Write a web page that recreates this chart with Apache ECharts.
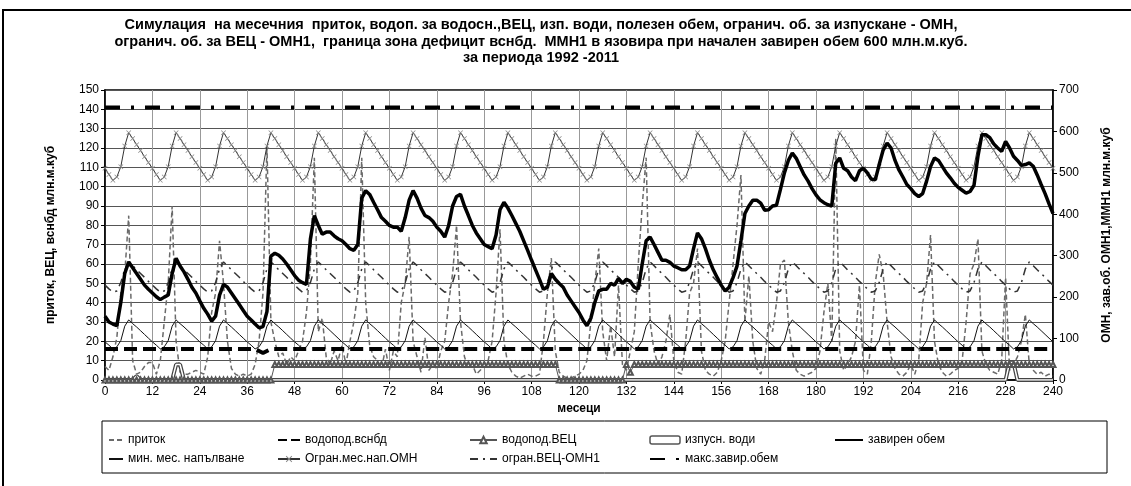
<!DOCTYPE html>
<html>
<head>
<meta charset="utf-8">
<title>Симулация ММН1</title>
<script src="https://cdn.jsdelivr.net/npm/echarts@6/dist/echarts.min.js"></script>
<style>
  html, body { margin: 0; padding: 0; background: #fff; }
  #chart { width: 1131px; height: 486px; }
</style>
</head>
<body>
<div id="chart"></div>
<script>
// months 0..240
const months = Array.from({ length: 241 }, (_, i) => i);

// приток (left axis)
const inflow = [
  7, 5, 12, 22, 45, 55, 85, 10, 3, 4, 7, 9,
  9, 3, 10, 30, 50, 90, 20, 4, 3, 3, 4, 5,
  4, 3, 12, 35, 45, 72, 50, 20, 6, 3, 2, 3,
  2, 3, 8, 20, 45, 121, 30, 20, 12, 14, 8, 12,
  10, 15, 20, 35, 60, 115, 25, 32, 12, 8, 15, 10,
  18, 8, 20, 30, 45, 115, 40, 18, 12, 10, 6, 16,
  5, 15, 12, 40, 50, 74, 20, 12, 4, 22, 5, 8,
  6, 15, 20, 40, 55, 80, 30, 12, 6, 8, 3, 5,
  8, 10, 20, 45, 78, 20, 8, 4, 2, 1, 2, 3,
  2, 2, 3, 20, 45, 63, 15, 4, 2, 1, 1, 2,
  3, 5, 10, 30, 50, 68, 25, 10, 28, 12, 49, 8,
  5, 15, 25, 60, 90, 115, 30, 15, 8, 12, 20, 34,
  10, 4, 3, 20, 45, 50, 68, 15, 5, 3, 2, 4,
  10, 20, 40, 60, 80, 106, 30, 54, 20, 6, 3, 10,
  30, 25, 40, 60, 62, 30, 15, 5, 3, 2, 3, 4,
  6, 15, 35, 50, 20, 125, 15, 5, 8, 12, 20, 49,
  5, 3, 20, 50, 65, 55, 30, 12, 6, 3, 2, 4,
  8, 3, 10, 40, 50, 75, 20, 8, 4, 2, 3, 5,
  6, 10, 30, 55, 60, 73, 15, 8, 5, 4, 3, 10,
  53, 5, 8, 12, 20, 34, 8, 5, 3, 4, 2, 3,
  2
];

// водопод.вснбд (left axis)
const supplyIrr = [
  16, 16, 16, 16, 16, 16, 16, 16, 16, 16, 16, 16,
  16, 16, 16, 16, 16, 16, 16, 16, 16, 16, 16, 16,
  16, 16, 16, 16, 16, 16, 16, 16, 16, 16, 16, 16,
  16, 16, 16, 15, 14, 15, 16, 16, 16, 16, 16, 16,
  16, 16, 16, 16, 16, 16, 16, 16, 16, 16, 16, 16,
  16, 16, 16, 16, 16, 16, 16, 16, 16, 16, 16, 16,
  16, 16, 16, 16, 16, 16, 16, 16, 16, 16, 16, 16,
  16, 16, 16, 16, 16, 16, 16, 16, 16, 16, 16, 16,
  16, 16, 16, 16, 16, 16, 16, 16, 16, 16, 16, 16,
  16, 16, 16, 16, 16, 16, 16, 16, 16, 16, 16, 16,
  16, 16, 16, 16, 16, 16, 16, 16, 16, 16, 16, 16,
  16, 16, 16, 16, 16, 16, 16, 16, 16, 16, 16, 16,
  16, 16, 16, 16, 16, 16, 16, 16, 16, 16, 16, 16,
  16, 16, 16, 16, 16, 16, 16, 16, 16, 16, 16, 16,
  16, 16, 16, 16, 16, 16, 16, 16, 16, 16, 16, 16,
  16, 16, 16, 16, 16, 16, 16, 16, 16, 16, 16, 16,
  16, 16, 16, 16, 16, 16, 16, 16, 16, 16, 16, 16,
  16, 16, 16, 16, 16, 16, 16, 16, 16, 16, 16, 16,
  16, 16, 16, 16, 16, 16, 16, 16, 16, 16, 16, 16,
  16, 16, 16, 16, 16, 16, 16, 16, 16, 16, 16, 16,
  16
];

// водопод.ВЕЦ (left axis)
const supplyHpp = [
  0, 0, 0, 0, 0, 0, 0, 0, 0, 0, 0, 0,
  0, 0, 0, 0, 0, 0, 0, 0, 0, 0, 0, 0,
  0, 0, 0, 0, 0, 0, 0, 0, 0, 0, 0, 0,
  0, 0, 0, 0, 0, 0, 0, 8, 8, 8, 8, 8,
  8, 8, 8, 8, 8, 8, 8, 8, 8, 8, 8, 8,
  8, 8, 8, 8, 8, 8, 8, 8, 8, 8, 8, 8,
  8, 8, 8, 8, 8, 8, 8, 8, 8, 8, 8, 8,
  8, 8, 8, 8, 8, 8, 8, 8, 8, 8, 8, 8,
  8, 8, 8, 8, 8, 8, 8, 8, 8, 8, 8, 8,
  8, 8, 8, 8, 8, 8, 8, 0, 0, 0, 0, 0,
  0, 0, 0, 0, 0, 0, 0, 0, 0, 0, 0, 0,
  8, 4, 8, 8, 8, 8, 8, 8, 8, 8, 8, 8,
  8, 8, 8, 8, 8, 8, 8, 8, 8, 8, 8, 8,
  8, 8, 8, 8, 8, 8, 8, 8, 8, 8, 8, 8,
  8, 8, 8, 8, 8, 8, 8, 8, 8, 8, 8, 8,
  8, 8, 8, 8, 8, 8, 8, 8, 8, 8, 8, 8,
  8, 8, 8, 8, 8, 8, 8, 8, 8, 8, 8, 8,
  8, 8, 8, 8, 8, 8, 8, 8, 8, 8, 8, 8,
  8, 8, 8, 8, 8, 8, 8, 8, 8, 8, 8, 8,
  8, 8, 8, 8, 8, 8, 8, 8, 8, 8, 8, 8,
  8
];

// изпусн. води (left axis)
const spill = [
  0, 0, 0, 0, 0, 0, 0, 0, 2, 0, 0, 0,
  0, 0, 0, 0, 0, 0, 8, 8, 0, 0, 0, 0,
  0, 0, 0, 0, 0, 0, 0, 0, 0, 0, 0, 0,
  0, 0, 0, 0, 0, 0, 0, 0, 0, 0, 0, 0,
  0, 0, 0, 0, 0, 0, 0, 0, 0, 0, 0, 0,
  0, 0, 0, 0, 0, 0, 0, 0, 0, 0, 0, 0,
  0, 0, 0, 0, 0, 0, 0, 0, 0, 0, 0, 0,
  0, 0, 0, 0, 0, 0, 0, 0, 0, 0, 0, 0,
  0, 0, 0, 0, 0, 0, 0, 0, 0, 0, 0, 0,
  0, 0, 0, 0, 0, 0, 0, 0, 0, 0, 0, 0,
  0, 0, 0, 0, 0, 0, 0, 0, 0, 0, 0, 0,
  0, 0, 0, 0, 0, 0, 0, 0, 0, 0, 0, 0,
  0, 0, 0, 0, 0, 0, 0, 0, 0, 0, 0, 0,
  0, 0, 0, 0, 0, 0, 0, 0, 0, 0, 0, 0,
  0, 0, 0, 0, 0, 0, 0, 0, 0, 0, 0, 0,
  0, 0, 0, 0, 0, 0, 0, 0, 0, 0, 0, 0,
  0, 0, 0, 0, 0, 0, 0, 0, 0, 0, 0, 0,
  0, 0, 0, 0, 0, 0, 0, 0, 0, 0, 0, 0,
  0, 0, 0, 0, 0, 0, 0, 0, 0, 0, 0, 0,
  0, 9, 9, 0, 0, 0, 0, 0, 0, 0, 0, 0,
  0
];

// завирен обем (right axis)
const stored = [
  154, 140, 135, 131, 187, 257, 285, 271, 257, 243, 229, 219,
  210, 201, 194, 200, 205, 257, 294, 275, 261, 243, 224, 210,
  191, 173, 159, 142, 154, 205, 231, 224, 210, 196, 182, 168,
  154, 145, 135, 126, 129, 165, 299, 306, 301, 292, 280, 266,
  252, 241, 235, 231, 340, 397, 373, 352, 357, 357, 348, 341,
  336, 327, 317, 313, 327, 439, 457, 448, 429, 411, 392, 383,
  373, 369, 369, 359, 392, 434, 457, 439, 415, 397, 392, 383,
  369, 359, 345, 373, 420, 443, 448, 420, 397, 373, 355, 341,
  327, 322, 317, 350, 411, 429, 415, 397, 378, 359, 336, 313,
  289, 266, 243, 219, 224, 257, 243, 233, 224, 205, 191, 177,
  163, 145, 131, 149, 187, 215, 219, 219, 233, 229, 245, 233,
  243, 238, 224, 219, 280, 336, 345, 327, 308, 289, 289, 284,
  275, 271, 266, 266, 275, 317, 355, 341, 317, 289, 266, 247,
  229, 215, 224, 247, 275, 336, 402, 420, 434, 434, 427, 410,
  411, 420, 422, 460, 500, 530, 548, 535, 515, 495, 480, 462,
  447, 435, 428, 423, 420, 523, 536, 511, 505, 490, 481, 505,
  511, 500, 485, 483, 520, 555, 572, 560, 530, 507, 490, 472,
  462, 450, 443, 450, 480, 515, 536, 530, 515, 500, 488, 475,
  465, 458, 451, 455, 470, 540, 592, 592, 585, 570, 560, 552,
  576, 560, 540, 530, 518, 520, 524, 516, 495, 472, 450, 425,
  402
];

// мин. мес. напълване (right axis)
const minFill = [
  92, 84, 75, 80, 95, 130, 145, 136, 128, 119, 110, 101,
  92, 84, 75, 80, 95, 130, 145, 136, 128, 119, 110, 101,
  92, 84, 75, 80, 95, 130, 145, 136, 128, 119, 110, 101,
  92, 84, 75, 80, 95, 130, 145, 136, 128, 119, 110, 101,
  92, 84, 75, 80, 95, 130, 145, 136, 128, 119, 110, 101,
  92, 84, 75, 80, 95, 130, 145, 136, 128, 119, 110, 101,
  92, 84, 75, 80, 95, 130, 145, 136, 128, 119, 110, 101,
  92, 84, 75, 80, 95, 130, 145, 136, 128, 119, 110, 101,
  92, 84, 75, 80, 95, 130, 145, 136, 128, 119, 110, 101,
  92, 84, 75, 80, 95, 130, 145, 136, 128, 119, 110, 101,
  92, 84, 75, 80, 95, 130, 145, 136, 128, 119, 110, 101,
  92, 84, 75, 80, 95, 130, 145, 136, 128, 119, 110, 101,
  92, 84, 75, 80, 95, 130, 145, 136, 128, 119, 110, 101,
  92, 84, 75, 80, 95, 130, 145, 136, 128, 119, 110, 101,
  92, 84, 75, 80, 95, 130, 145, 136, 128, 119, 110, 101,
  92, 84, 75, 80, 95, 130, 145, 136, 128, 119, 110, 101,
  92, 84, 75, 80, 95, 130, 145, 136, 128, 119, 110, 101,
  92, 84, 75, 80, 95, 130, 145, 136, 128, 119, 110, 101,
  92, 84, 75, 80, 95, 130, 145, 136, 128, 119, 110, 101,
  92, 84, 75, 80, 95, 130, 145, 136, 128, 119, 110, 101,
  92
];

// Огран.мес.нап.ОМН (right axis)
const limitOmn = [
  511, 496, 482, 490, 515, 565, 597, 583, 568, 554, 539, 525,
  511, 496, 482, 490, 515, 565, 597, 583, 568, 554, 539, 525,
  511, 496, 482, 490, 515, 565, 597, 583, 568, 554, 539, 525,
  511, 496, 482, 490, 515, 565, 597, 583, 568, 554, 539, 525,
  511, 496, 482, 490, 515, 565, 597, 583, 568, 554, 539, 525,
  511, 496, 482, 490, 515, 565, 597, 583, 568, 554, 539, 525,
  511, 496, 482, 490, 515, 565, 597, 583, 568, 554, 539, 525,
  511, 496, 482, 490, 515, 565, 597, 583, 568, 554, 539, 525,
  511, 496, 482, 490, 515, 565, 597, 583, 568, 554, 539, 525,
  511, 496, 482, 490, 515, 565, 597, 583, 568, 554, 539, 525,
  511, 496, 482, 490, 515, 565, 597, 583, 568, 554, 539, 525,
  511, 496, 482, 490, 515, 565, 597, 583, 568, 554, 539, 525,
  511, 496, 482, 490, 515, 565, 597, 583, 568, 554, 539, 525,
  511, 496, 482, 490, 515, 565, 597, 583, 568, 554, 539, 525,
  511, 496, 482, 490, 515, 565, 597, 583, 568, 554, 539, 525,
  511, 496, 482, 490, 515, 565, 597, 583, 568, 554, 539, 525,
  511, 496, 482, 490, 515, 565, 597, 583, 568, 554, 539, 525,
  511, 496, 482, 490, 515, 565, 597, 583, 568, 554, 539, 525,
  511, 496, 482, 490, 515, 565, 597, 583, 568, 554, 539, 525,
  511, 496, 482, 490, 515, 565, 597, 583, 568, 554, 539, 525,
  511
];

// огран.ВЕЦ-ОМН1 (right axis)
const limitHpp = [
  229, 220, 212, 215, 235, 268, 285, 276, 266, 257, 248, 238,
  229, 220, 212, 215, 235, 268, 285, 276, 266, 257, 248, 238,
  229, 220, 212, 215, 235, 268, 285, 276, 266, 257, 248, 238,
  229, 220, 212, 215, 235, 268, 285, 276, 266, 257, 248, 238,
  229, 220, 212, 215, 235, 268, 285, 276, 266, 257, 248, 238,
  229, 220, 212, 215, 235, 268, 285, 276, 266, 257, 248, 238,
  229, 220, 212, 215, 235, 268, 285, 276, 266, 257, 248, 238,
  229, 220, 212, 215, 235, 268, 285, 276, 266, 257, 248, 238,
  229, 220, 212, 215, 235, 268, 285, 276, 266, 257, 248, 238,
  229, 220, 212, 215, 235, 268, 285, 276, 266, 257, 248, 238,
  229, 220, 212, 215, 235, 268, 285, 276, 266, 257, 248, 238,
  229, 220, 212, 215, 235, 268, 285, 276, 266, 257, 248, 238,
  229, 220, 212, 215, 235, 268, 285, 276, 266, 257, 248, 238,
  229, 220, 212, 215, 235, 268, 285, 276, 266, 257, 248, 238,
  229, 220, 212, 215, 235, 268, 285, 276, 266, 257, 248, 238,
  229, 220, 212, 215, 235, 268, 285, 276, 266, 257, 248, 238,
  229, 220, 212, 215, 235, 268, 285, 276, 266, 257, 248, 238,
  229, 220, 212, 215, 235, 268, 285, 276, 266, 257, 248, 238,
  229, 220, 212, 215, 235, 268, 285, 276, 266, 257, 248, 238,
  229, 220, 212, 215, 235, 268, 285, 276, 266, 257, 248, 238,
  229
];

// макс.завир.обем (right axis)
const maxStored = [
  658, 658, 658, 658, 658, 658, 658, 658, 658, 658, 658, 658,
  658, 658, 658, 658, 658, 658, 658, 658, 658, 658, 658, 658,
  658, 658, 658, 658, 658, 658, 658, 658, 658, 658, 658, 658,
  658, 658, 658, 658, 658, 658, 658, 658, 658, 658, 658, 658,
  658, 658, 658, 658, 658, 658, 658, 658, 658, 658, 658, 658,
  658, 658, 658, 658, 658, 658, 658, 658, 658, 658, 658, 658,
  658, 658, 658, 658, 658, 658, 658, 658, 658, 658, 658, 658,
  658, 658, 658, 658, 658, 658, 658, 658, 658, 658, 658, 658,
  658, 658, 658, 658, 658, 658, 658, 658, 658, 658, 658, 658,
  658, 658, 658, 658, 658, 658, 658, 658, 658, 658, 658, 658,
  658, 658, 658, 658, 658, 658, 658, 658, 658, 658, 658, 658,
  658, 658, 658, 658, 658, 658, 658, 658, 658, 658, 658, 658,
  658, 658, 658, 658, 658, 658, 658, 658, 658, 658, 658, 658,
  658, 658, 658, 658, 658, 658, 658, 658, 658, 658, 658, 658,
  658, 658, 658, 658, 658, 658, 658, 658, 658, 658, 658, 658,
  658, 658, 658, 658, 658, 658, 658, 658, 658, 658, 658, 658,
  658, 658, 658, 658, 658, 658, 658, 658, 658, 658, 658, 658,
  658, 658, 658, 658, 658, 658, 658, 658, 658, 658, 658, 658,
  658, 658, 658, 658, 658, 658, 658, 658, 658, 658, 658, 658,
  658, 658, 658, 658, 658, 658, 658, 658, 658, 658, 658, 658,
  658
];

const titleLines = [
  "Симулация  на месечния  приток, водоп. за водосн.,ВЕЦ, изп. води, полезен обем, огранич. об. за изпускане - ОМН,",
  "огранич. об. за ВЕЦ - ОМН1,  граница зона дефицит вснбд.  ММН1 в язовира при начален завирен обем 600 млн.м.куб.",
  "за периода 1992 -2011"
];

const FONT = "Arial, 'Liberation Sans', sans-serif";
const CROSS = "path://M0,1L1,0L5,4L9,0L10,1L6,5L10,9L9,10L5,6L1,10L0,9L4,5Z";

function pairs(arr) {
  return arr.map((v, i) => [months[i], v]);
}

// legend entry that shows only the line, no marker
function plain(name, lineStyle) {
  const item = { name: name, itemStyle: { color: "rgba(0,0,0,0)", borderColor: "rgba(0,0,0,0)", borderWidth: 0 } };
  if (lineStyle) item.lineStyle = lineStyle;
  return item;
}

function legendCol(left, width, items) {
  return {
    orient: "vertical",
    left: left,
    top: 429,
    itemGap: 7,
    itemWidth: width,
    itemHeight: 8,
    selectedMode: false,
    textStyle: { fontSize: 12, color: "#000", fontFamily: FONT },
    data: items,
  };
}

function buildOption() {
  return {
    animation: false,
    backgroundColor: "#fff",
    title: {
      text: titleLines.join("\n"),
      left: 536,
      top: 12,
      textAlign: "center",
      textStyle: { fontSize: 14.5, fontWeight: "bold", lineHeight: 16.5, color: "#000", fontFamily: FONT },
    },
    grid: {
      left: 105, right: 78, top: 90, bottom: 106,
      show: true, borderColor: "#000", borderWidth: 1.5, backgroundColor: "transparent",
    },
    legend: [
      legendCol(103, 14, [plain("приток"), plain("мин. мес. напълване")]),
      legendCol(272, 22, [plain("водопод.вснбд", { type: [9, 4] }), "Огран.мес.нап.ОМН"]),
      legendCol(464, 27, ["водопод.ВЕЦ", plain("огран.ВЕЦ-ОМН1")]),
      legendCol(644, 30, [
        { name: "изпусн. води", icon: "roundRect", itemStyle: { color: "#fff", borderColor: "#555", borderWidth: 1.5 } },
        plain("макс.завир.обем"),
      ]),
      legendCol(829, 28, [plain("завирен обем")]),
    ],
    graphic: [
      { type: "rect", shape: { x: 3, y: 10, width: 1150, height: 500 }, style: { fill: "none", stroke: "#000", lineWidth: 2 }, silent: true },
      { type: "rect", shape: { x: 102, y: 421, width: 1005, height: 52 }, style: { fill: "none", stroke: "#000", lineWidth: 1 }, silent: true },
    ],
    xAxis: {
      type: "value",
      min: 0, max: 240, interval: 12,
      name: "месеци",
      nameLocation: "middle",
      nameGap: 22,
      nameTextStyle: { fontSize: 12, fontWeight: "bold", color: "#000", fontFamily: FONT },
      axisLine: { lineStyle: { color: "#000", width: 1.5 } },
      axisTick: { show: true, inside: false, length: 4, lineStyle: { color: "#000" } },
      axisLabel: { fontSize: 12, color: "#000", fontFamily: FONT, margin: 6 },
      splitLine: { show: true, lineStyle: { color: "#999", width: 1 } },
    },
    yAxis: [
      {
        type: "value",
        min: 0, max: 150, interval: 10,
        name: "приток, ВЕЦ, вснбд млн.м.куб",
        nameLocation: "middle",
        nameRotate: 90,
        nameGap: 48,
        nameTextStyle: { fontSize: 12, fontWeight: "bold", color: "#000", fontFamily: FONT },
        axisLine: { show: true, lineStyle: { color: "#000", width: 1.5 } },
        axisTick: { show: true, length: 4, lineStyle: { color: "#000" } },
        axisLabel: { fontSize: 12, color: "#000", fontFamily: FONT, margin: 6 },
        splitLine: { show: true, lineStyle: { color: "#555", width: 1 } },
      },
      {
        type: "value",
        min: 0, max: 700, interval: 100,
        name: "ОМН, зав.об. ОМН1,ММН1 млн.м.куб",
        nameLocation: "middle",
        nameRotate: 90,
        nameGap: 48,
        nameTextStyle: { fontSize: 12, fontWeight: "bold", color: "#000", fontFamily: FONT },
        axisLine: { show: true, lineStyle: { color: "#000", width: 1.5 } },
        axisTick: { show: true, length: 4, lineStyle: { color: "#000" } },
        axisLabel: { fontSize: 12, color: "#000", fontFamily: FONT, margin: 6 },
        splitLine: { show: false },
      },
    ],
    series: [
      {
        name: "приток", type: "line", yAxisIndex: 0, data: pairs(inflow), symbol: "none",
        lineStyle: { color: "#6a6a6a", width: 1.5, type: [5, 3] }, z: 2,
      },
      {
        name: "мин. мес. напълване", type: "line", yAxisIndex: 1, data: pairs(minFill), symbol: "none",
        lineStyle: { color: "#111", width: 1 }, z: 3,
      },
      {
        name: "Огран.мес.нап.ОМН", type: "line", yAxisIndex: 1, data: pairs(limitOmn),
        symbol: CROSS, symbolSize: 5, showAllSymbol: true,
        itemStyle: { color: "#888" }, lineStyle: { color: "#333", width: 1 }, z: 3,
      },
      {
        name: "огран.ВЕЦ-ОМН1", type: "line", yAxisIndex: 1, data: pairs(limitHpp), symbol: "none",
        lineStyle: { color: "#333", width: 1.5, type: [8, 5, 2, 5] }, z: 3,
      },
      {
        name: "водопод.ВЕЦ", type: "line", yAxisIndex: 0, data: pairs(supplyHpp),
        symbol: "emptyTriangle", symbolSize: 5, showAllSymbol: true,
        itemStyle: { color: "#555", borderWidth: 1 }, lineStyle: { color: "#555", width: 1 }, z: 4,
      },
      {
        name: "изпусн. води", type: "line", yAxisIndex: 0, data: pairs(spill), symbol: "none",
        lineStyle: { color: "#444", width: 4 }, z: 4,
      },
      {
        name: "изпусн. води (вътр.)", type: "line", yAxisIndex: 0, data: pairs(spill), symbol: "none",
        lineStyle: { color: "#fff", width: 1.5 }, z: 4,
      },
      {
        name: "водопод.вснбд", type: "line", yAxisIndex: 0, data: pairs(supplyIrr), symbol: "none",
        lineStyle: { color: "#000", width: 4, type: [13, 6] }, z: 5,
      },
      {
        name: "макс.завир.обем", type: "line", yAxisIndex: 1, data: pairs(maxStored), symbol: "none",
        lineStyle: { color: "#000", width: 4, type: [15, 11, 3, 11] }, z: 5,
      },
      {
        name: "завирен обем", type: "line", yAxisIndex: 1, data: pairs(stored), symbol: "none",
        lineStyle: { color: "#000", width: 3.5 }, z: 6,
      },
    ],
  };
}

const chart = echarts.init(document.getElementById("chart"));
chart.setOption(buildOption());
</script>
</body>
</html>
